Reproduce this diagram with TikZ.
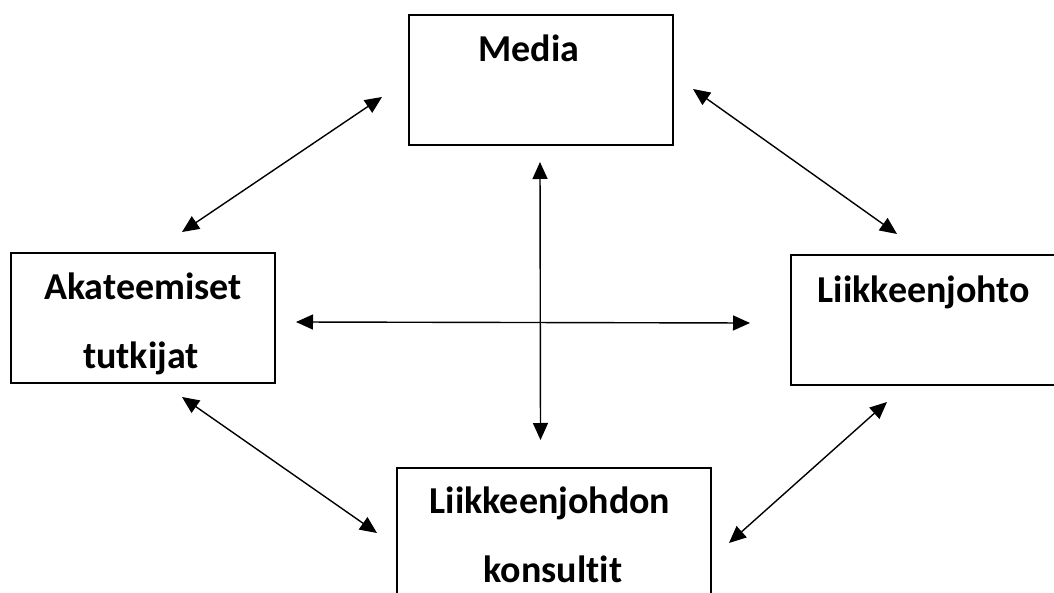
\documentclass[tikz,border=0pt]{standalone}
\usepackage{fontspec}
\setmainfont{Carlito}[Ligatures={NoCommon}]
\usetikzlibrary{arrows.meta}
\begin{document}
\begin{tikzpicture}[x=1pt,y=-1pt,
  box/.style={draw, line width=1.4pt, inner sep=0pt, rectangle},
  lbl/.style={font=\bfseries\fontsize{38}{44}\selectfont, anchor=base, inner sep=0pt},
  link/.style={line width=1.4pt, {Triangle[length=17pt,width=15pt]}-{Triangle[length=17pt,width=15pt]}}]
\clip (0,0) rectangle (1054,593);
\fill[white] (0,0) rectangle (1054,593);
% boxes
\node[box, minimum width=264pt, minimum height=130pt] (media) at (541,80) {};
\node[box, minimum width=264pt, minimum height=130pt] (akat) at (143,318) {};
\node[box, minimum width=279pt, minimum height=130pt] (liik) at (930.5,320) {};
\node[box, minimum width=314pt, minimum height=152pt] (kons) at (554,544) {};
% labels
\node[lbl] (tmedia) at (529,62) {Media};
\node[lbl] (takat1) at (143,300) {Akateemiset};
\node[lbl] (takat2) at (141,368) {tutkijat};
\node[lbl] (tliik) at (924,302.5) {Liikkeenjohto};
\node[lbl] (tkons1) at (550,513) {Liikkeenjohdon};
\node[lbl] (tkons2) at (553,582) {konsultit};
% connector ends
\coordinate (ma1) at (382,97);  \coordinate (ma2) at (182,232);
\coordinate (ml1) at (693,89);  \coordinate (ml2) at (897,234);
\coordinate (v1) at (540,162);  \coordinate (v2) at (540.5,440);
\coordinate (h1) at (296,322);  \coordinate (h2) at (750,323);
\coordinate (ak1) at (182,397); \coordinate (ak2) at (377,533);
\coordinate (lk1) at (887,402); \coordinate (lk2) at (729,543);
\draw[link] (ma1) -- (ma2);
\draw[link] (ml1) -- (ml2);
\draw[link] (v1) -- (v2);
\draw[link] (h1) -- (h2);
\draw[link] (ak1) -- (ak2);
\draw[link] (lk1) -- (lk2);
\end{tikzpicture}
\end{document}
